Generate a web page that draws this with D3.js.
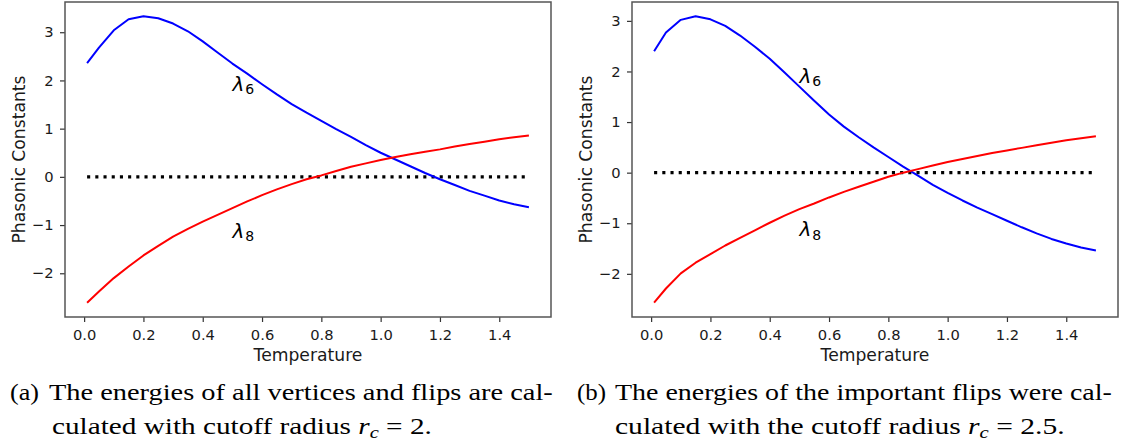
<!DOCTYPE html>
<html>
<head>
<meta charset="utf-8">
<script src="https://cdn.jsdelivr.net/npm/d3@7/dist/d3.min.js"></script>
<style>
  html, body { margin: 0; padding: 0; background: #fff; }
  svg { display: block; }
</style>
</head>
<body>
<svg id="fig" width="1124" height="448"></svg>
<script>
// Temperatures at which the phasonic constants were evaluated
const temps = [0.01, 0.05, 0.10, 0.15, 0.20, 0.25, 0.30, 0.35, 0.40, 0.45,
               0.50, 0.55, 0.60, 0.65, 0.70, 0.75, 0.80, 0.85, 0.90, 0.95,
               1.00, 1.05, 1.10, 1.15, 1.20, 1.25, 1.30, 1.35, 1.40, 1.45, 1.50];

// (a) all vertices and flips, cutoff radius r_c = 2
const lambda6A = [2.36, 2.68, 3.04, 3.27, 3.33, 3.29, 3.18, 3.02, 2.81, 2.58,
                  2.35, 2.14, 1.92, 1.71, 1.51, 1.33, 1.16, 0.99, 0.83, 0.66,
                  0.50, 0.36, 0.22, 0.08, -0.05, -0.17, -0.29, -0.39, -0.49, -0.57, -0.63];
const lambda8A = [-2.61, -2.38, -2.10, -1.86, -1.63, -1.43, -1.24, -1.08, -0.93, -0.79,
                  -0.65, -0.51, -0.38, -0.26, -0.15, -0.05, 0.03, 0.12, 0.21, 0.28,
                  0.35, 0.41, 0.47, 0.52, 0.57, 0.63, 0.68, 0.73, 0.78, 0.82, 0.86];

// (b) important flips, cutoff radius r_c = 2.5
const lambda6B = [2.40, 2.77, 3.02, 3.09, 3.03, 2.90, 2.71, 2.49, 2.25, 1.98,
                  1.70, 1.42, 1.15, 0.91, 0.70, 0.50, 0.31, 0.12, -0.06, -0.24,
                  -0.40, -0.55, -0.69, -0.82, -0.95, -1.08, -1.20, -1.31, -1.40, -1.48, -1.54];
const lambda8B = [-2.57, -2.29, -1.99, -1.78, -1.61, -1.44, -1.29, -1.14, -0.99, -0.85,
                  -0.72, -0.61, -0.49, -0.38, -0.28, -0.18, -0.08, 0.00, 0.07, 0.14,
                  0.21, 0.27, 0.33, 0.39, 0.44, 0.49, 0.54, 0.59, 0.64, 0.68, 0.72];

const xTicks = [0.0, 0.2, 0.4, 0.6, 0.8, 1.0, 1.2, 1.4];
const yTicks = [-2, -1, 0, 1, 2, 3];

const xLabel = "Temperature";
const yLabel = "Phasonic Constants";

const panels = [
  {
    box: { left: 65, right: 551, top: 2, bottom: 317 },
    l6: lambda6A, l8: lambda8A,
    tag: "(a)", tagX: 10,
    line1: "The energies of all vertices and flips are cal-",
    line1X: 49, line1W: 504,
    line2: "culated with cutoff radius ",
    line2X: 52, line2W: 380,
    value: "2."
  },
  {
    box: { left: 632, right: 1118, top: 2, bottom: 317 },
    l6: lambda6B, l8: lambda8B,
    tag: "(b)", tagX: 577,
    line1: "The energies of the important flips were cal-",
    line1X: 615, line1W: 497,
    line2: "culated with the cutoff radius ",
    line2X: 615, line2W: 450,
    value: "2.5."
  }
];

const svg = d3.select("#fig");
svg.append("rect").attr("width", 1124).attr("height", 448).attr("fill", "#fff");

const sans = "'DejaVu Sans', sans-serif";
const serif = "'Liberation Serif', 'Times New Roman', serif";
const minus = v => (v < 0 ? "\u2212" + Math.abs(v) : String(v));

// 5% padding around the data range on both axes
function padded(lo, hi) {
  const m = (hi - lo) * 0.05;
  return [lo - m, hi + m];
}

// put a caption line at (x, y) and stretch it horizontally to the given width
function fitLine(parent, x, y, width, build) {
  const g = parent.append("g");
  const t = g.append("text").attr("x", 0).attr("y", 0);
  build(t);
  const w = t.node().getComputedTextLength();
  g.attr("transform", `translate(${x},${y}) scale(${width / w},1)`);
}

panels.forEach(p => {
  const b = p.box;
  const x = d3.scaleLinear()
    .domain(padded(d3.min(temps), d3.max(temps)))
    .range([b.left, b.right]);
  const all = p.l6.concat(p.l8);
  const y = d3.scaleLinear()
    .domain(padded(d3.min(all), d3.max(all)))
    .range([b.bottom, b.top]);

  const g = svg.append("g");

  // zero reference line
  g.append("line")
    .attr("x1", x(temps[0])).attr("x2", x(temps[temps.length - 1]))
    .attr("y1", y(0)).attr("y2", y(0))
    .attr("stroke", "#000").attr("stroke-width", 3.1)
    .attr("stroke-dasharray", "3.1,5.1");

  const line = d3.line()
    .x((d, i) => x(temps[i]))
    .y(d => y(d));

  g.append("path").datum(p.l6)
    .attr("d", line).attr("fill", "none")
    .attr("stroke", "#0000ff").attr("stroke-width", 2)
    .attr("stroke-linejoin", "round");
  g.append("path").datum(p.l8)
    .attr("d", line).attr("fill", "none")
    .attr("stroke", "#ff0000").attr("stroke-width", 2)
    .attr("stroke-linejoin", "round");

  // curve labels
  [[1.78, "6"], [-1.26, "8"]].forEach(([yy, sub]) => {
    const t = g.append("text")
      .attr("x", x(0.5)).attr("y", y(yy))
      .attr("font-family", sans).attr("font-size", 20).attr("fill", "#000");
    t.append("tspan").attr("font-style", "italic").text("\u03bb");
    t.append("tspan").attr("font-size", 14).attr("dy", 3.3).attr("dx", 1).text(sub);
  });

  // axes
  const xAxis = d3.axisBottom(x).tickValues(xTicks)
    .tickFormat(d3.format(".1f")).tickSize(5).tickPadding(7.3);
  const yAxis = d3.axisLeft(y).tickValues(yTicks)
    .tickFormat(minus).tickSize(5).tickPadding(6.5);

  const gx = g.append("g").attr("transform", `translate(0,${b.bottom})`).call(xAxis);
  const gy = g.append("g").attr("transform", `translate(${b.left},0)`).call(yAxis);
  [gx, gy].forEach(a => {
    a.select(".domain").remove();
    a.selectAll(".tick line").attr("stroke", "#333").attr("stroke-width", 1.2);
    a.selectAll(".tick text")
      .attr("font-family", sans).attr("font-size", 14.7).attr("fill", "#1a1a1a");
  });

  // frame
  g.append("rect")
    .attr("x", b.left).attr("y", b.top)
    .attr("width", b.right - b.left).attr("height", b.bottom - b.top)
    .attr("fill", "none").attr("stroke", "#555").attr("stroke-width", 1.5);

  // axis titles
  g.append("text")
    .attr("x", (b.left + b.right) / 2).attr("y", 361)
    .attr("text-anchor", "middle")
    .attr("font-family", sans).attr("font-size", 17.2).attr("fill", "#1a1a1a")
    .text(xLabel);
  g.append("text")
    .attr("transform", `translate(${b.left - 40},${(b.top + b.bottom) / 2}) rotate(-90)`)
    .attr("text-anchor", "middle")
    .attr("font-family", sans).attr("font-size", 17.2).attr("fill", "#1a1a1a")
    .text(yLabel);

  // sub-figure caption
  const cap = svg.append("g")
    .attr("font-family", serif).attr("font-size", 23.5).attr("fill", "#000");
  fitLine(cap, p.tagX, 400, 29, t => t.text(p.tag));
  fitLine(cap, p.line1X, 400, p.line1W, t => t.text(p.line1));
  fitLine(cap, p.line2X, 434, p.line2W, t => {
    t.append("tspan").text(p.line2);
    t.append("tspan").attr("font-style", "italic").text("r");
    t.append("tspan").attr("font-style", "italic").attr("font-size", 16.5).attr("dy", 4).text("c");
    t.append("tspan").attr("dy", -4).text(" = " + p.value);
  });
});
</script>
</body>
</html>
